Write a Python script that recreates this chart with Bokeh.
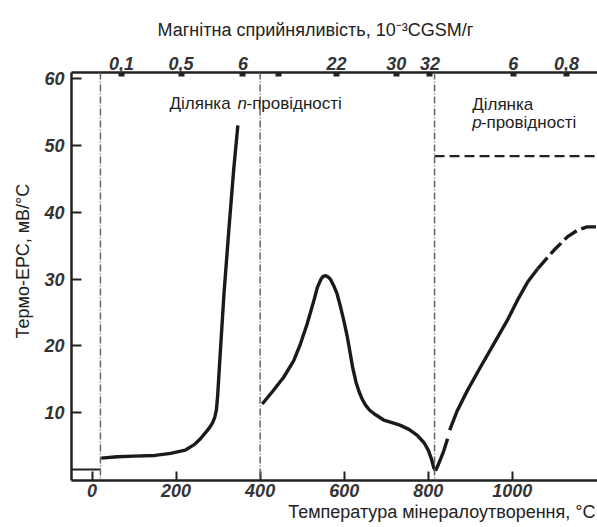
from bokeh.plotting import figure
from bokeh.models import Range1d, LinearAxis, FixedTicker, Label, Span, Title
from bokeh.embed import file_html
from bokeh.resources import INLINE

# ---- data ----
temp_ticks = [0, 200, 400, 600, 800, 1000]
emf_ticks = [10, 20, 30, 40, 50, 60]
chi_tick_pos = [70, 212, 359, 443, 582, 724, 804, 1002, 1129]
chi_tick_labels = ["0,1", "0,5", "6", "", "22", "30", "32", "6", "0,8"]

boundaries = [20, 400, 815]

# n-region, low-temperature branch
n1_t = [22, 60, 100, 150, 187, 222, 245, 258, 270, 280, 287, 292, 296, 299, 304, 314, 326, 337, 347]
n1_emf = [3.2, 3.4, 3.5, 3.6, 3.9, 4.4, 5.3, 6.1, 7.0, 7.8, 8.5, 9.3, 10.4, 12.6, 17.8, 27.8, 37.7, 46.3, 53.0]

# n-region, peak branch
n2_t = [405, 430, 456, 480, 496, 512, 528, 536, 545, 550, 556, 562, 568, 575, 583, 591, 599, 607,
        614, 620, 628, 635, 643, 650, 660, 672, 694, 714, 734, 754, 774, 790, 800, 808, 813, 817]
n2_emf = [11.3, 13.2, 15.3, 17.8, 20.3, 23.3, 26.8, 28.7, 30.0, 30.4, 30.5, 30.3, 29.9, 29.0, 27.8,
          25.9, 23.8, 21.5, 19.0, 16.8, 14.6, 13.2, 12.0, 11.2, 10.4, 9.8, 8.9, 8.5, 8.1, 7.5, 6.6,
          5.5, 4.4, 3.0, 1.8, 1.3]

# p-region branch (solid parts and dashed extrapolation)
pa_t = [817, 821, 829, 837, 846]
pa_emf = [1.3, 1.8, 3.0, 4.3, 6.1]
pb_t = [851, 869, 893, 924, 956, 988, 1012, 1036, 1060]
pb_emf = [7.4, 10.3, 13.3, 16.8, 20.3, 23.8, 26.8, 29.5, 31.5]
pc_t = [1060, 1067, 1099, 1131, 1155, 1178, 1203]
pc_emf = [31.5, 32.0, 34.3, 36.3, 37.3, 37.8, 37.8]

p_limit_t = [815, 1203]
p_limit_emf = [48.4, 48.4]

base_t = [-49, 20]
base_emf = [1.5, 1.5]

FONT = "Liberation Sans"
INK = "#1a1a1a"

p = figure(width=597, height=527, x_range=Range1d(-48.8, 1202.7), y_range=Range1d(-0.15, 60.9),
           output_backend="svg", toolbar_location=None,
           title="Магнітна сприйняливість, 10⁻³CGSM/г", title_location="above",
           min_border_left=71, min_border_top=72, min_border_bottom=47, min_border_right=0,
           x_axis_location="below", y_axis_location="left")
p.outline_line_color = None
p.grid.visible = False
p.background_fill_color = "white"

def style_axis(ax, tick_in):
    ax.axis_line_width = 2.5
    ax.axis_line_color = "#222222"
    ax.major_tick_line_color = "#222222"
    ax.major_tick_line_width = 2
    ax.major_tick_in = tick_in
    ax.major_tick_out = 0
    ax.minor_tick_line_color = None
    ax.major_label_text_font = FONT
    ax.major_label_text_font_style = "bold italic"
    ax.major_label_text_font_size = "18px"
    ax.major_label_text_color = "#333333"

xa = p.xaxis[0]
xa.ticker = FixedTicker(ticks=temp_ticks)
style_axis(xa, 9)
xa.major_label_standoff = 3

ya = p.yaxis[0]
ya.ticker = FixedTicker(ticks=emf_ticks)
style_axis(ya, 10)
ya.major_label_standoff = 7

top = LinearAxis(ticker=FixedTicker(ticks=chi_tick_pos),
                 major_label_overrides={pos: lab for pos, lab in zip(chi_tick_pos, chi_tick_labels)})
style_axis(top, 4)
top.major_tick_line_width = 6
top.major_label_standoff = 3
p.add_layout(top, "above")

# top title (magnetic susceptibility)
p.title.text_font = FONT
p.title.text_font_size = "18px"
p.title.text_font_style = "normal"
p.title.text_color = "#222222"
p.title.align = "left"
p.title.offset = 86
p.title.standoff = 27

# bottom title
p.add_layout(Title(text="Температура мінералоутворення, °C", text_font=FONT, text_font_size="18px",
                   text_font_style="normal", text_color="#222222", align="right", offset=2,
                   standoff=4, vertical_align="top"), "below")
# left title
p.add_layout(Title(text="Термо-ЕРС, мВ/°С", text_font=FONT, text_font_size="18px",
                   text_font_style="normal", text_color="#222222", align="left", offset=142,
                   standoff=15, vertical_align="middle"), "left")

for b in boundaries:
    p.add_layout(Span(location=b, dimension="height", line_color="#666666",
                      line_width=1.5, line_dash="7 2 1 2"))

p.line(base_t, base_emf, line_color="#222222", line_width=2)
p.line(n1_t, n1_emf, line_color=INK, line_width=3.4, line_join="round")
p.line(n2_t, n2_emf, line_color=INK, line_width=3.4, line_join="round")
p.line(pa_t, pa_emf, line_color=INK, line_width=3.4, line_join="round")
p.line(pb_t, pb_emf, line_color=INK, line_width=3.4, line_join="round")
p.line(pc_t, pc_emf, line_color=INK, line_width=3.4, line_dash="15 5")
p.line(p_limit_t, p_limit_emf, line_color="#222222", line_width=2.2, line_dash="10 5")

def lab(x, y, text, style="normal"):
    p.add_layout(Label(x=x, y=y, text=text, text_font=FONT, text_font_size="17px",
                       text_font_style=style, text_align="left", text_baseline="alphabetic",
                       text_color="#222222"))

# region annotations
lab(184.5, 56.2, "Ділянка")
lab(346.0, 56.2, "n", style="italic")
lab(367.5, 56.2, "-провідності")
lab(904.5, 56.1, "Ділянка")
lab(904.5, 53.4, "p", style="italic")
lab(925.0, 53.4, "-провідності")

open("out.html", "w").write(file_html(p, INLINE))
